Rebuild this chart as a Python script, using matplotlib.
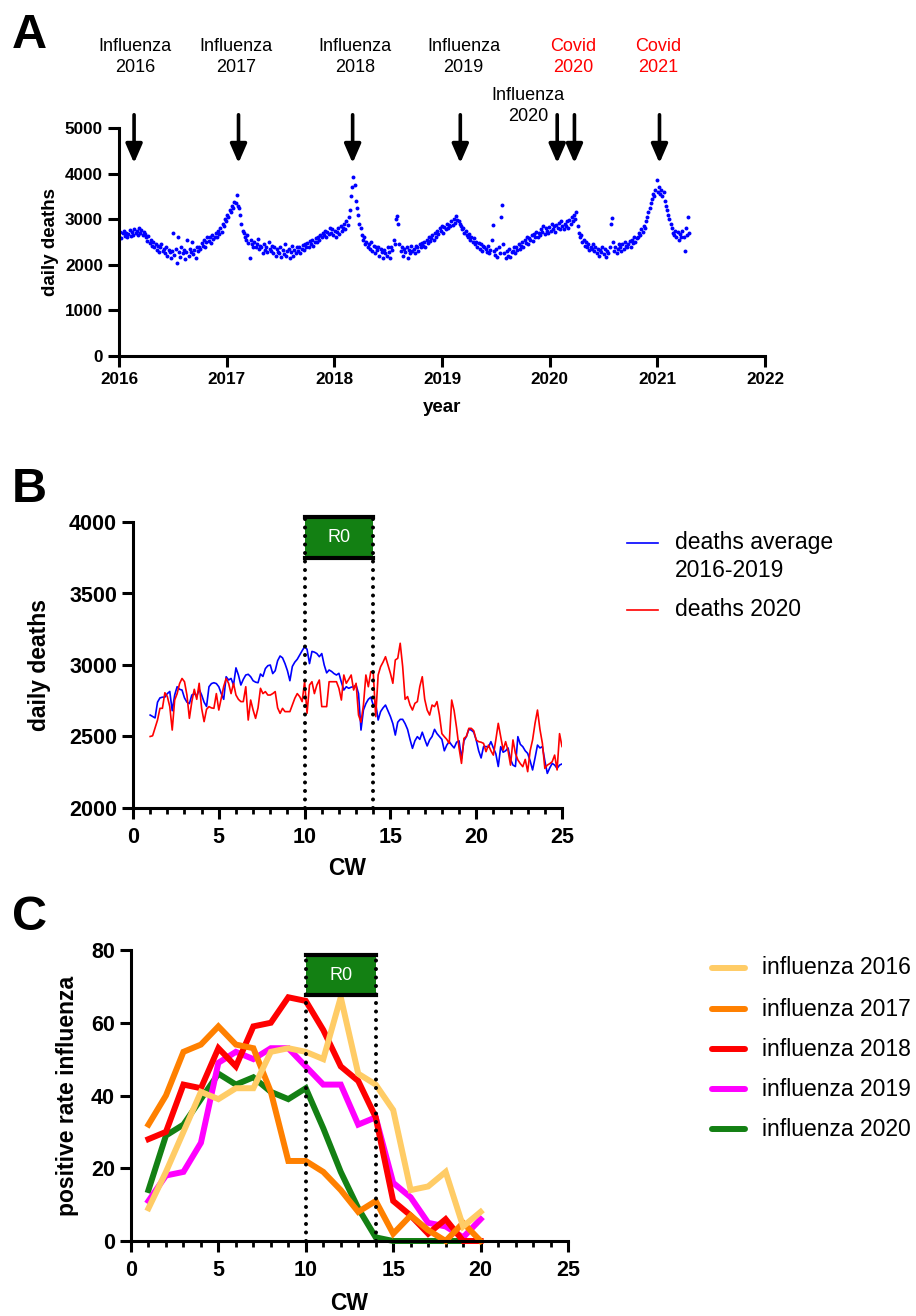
import numpy as np
import pandas as pd
import matplotlib
matplotlib.use("Agg")
import matplotlib.pyplot as plt
from matplotlib.patches import Rectangle
from matplotlib.lines import Line2D
from matplotlib.transforms import blended_transform_factory

plt.rcParams['font.family'] = ['Liberation Sans', 'DejaVu Sans']

# ---------------- panel A: daily deaths, one value every 4 days from 2016-01-01
deaths_2016 = [2620, 2710, 2580, 2690, 2750, 2640, 2700, 2600,
               2680, 2760, 2630, 2720, 2650, 2780, 2690,
               2740, 2660, 2800, 2700, 2760, 2650, 2720, 2680,
               2600, 2520, 2630, 2480, 2550, 2420, 2500,
               2380, 2460, 2330, 2410, 2290, 2380, 2450, 2310,
               2350, 2250, 2400, 2200, 2330, 2280, 2150,
               2300, 2700, 2220, 2350, 2050, 2600, 2280, 2180,
               2400, 2250, 2330, 2120, 2280, 2550, 2200, 2350,
               2280, 2500, 2230, 2320, 2150, 2380, 2300,
               2400, 2350, 2480, 2420, 2550, 2380, 2500, 2600,
               2520, 2600, 2480, 2650, 2560, 2620, 2700,
               2620, 2750, 2680, 2800, 2720, 2900, 2850, 3000]
deaths_2017 = [2950, 3100, 3050, 3200, 3150, 3300, 3250, 3380,
               3350, 3530, 3300, 3250, 3100, 2900, 2750,
               2700, 2600, 2550, 2650, 2480, 2150, 2550, 2460,
               2400, 2500, 2380, 2450, 2560, 2350, 2420,
               2380, 2250, 2450, 2330, 2400, 2280, 2500, 2350,
               2300, 2420, 2250, 2380, 2200, 2350, 2280,
               2250, 2400, 2180, 2320, 2230, 2450, 2200, 2300,
               2350, 2150, 2280, 2420, 2200, 2330, 2250, 2380,
               2300, 2400, 2250, 2350, 2430, 2320, 2450,
               2400, 2480, 2380, 2520, 2450, 2550, 2420, 2500,
               2580, 2500, 2620, 2550, 2650, 2600, 2700,
               2650, 2750, 2600, 2720, 2680, 2800, 2700, 2780]
deaths_2018 = [2650, 2750, 2600, 2720, 2800, 2680, 2850, 2750,
               2800, 2900, 2780, 2950, 2880, 3050, 3200,
               3500, 3700, 3920, 3750, 3400, 3250, 3100, 2900,
               2800, 2650, 2550, 2600, 2450, 2500, 2400,
               2450, 2350, 2500, 2300, 2420, 2250, 2380, 2320,
               2400, 2200, 2350, 2280, 2150, 2330, 2250,
               2200, 2380, 2280, 2150, 2400, 2320, 2550, 2450,
               3000, 3080, 2900, 2450, 2300, 2380, 2200, 2350,
               2280, 2400, 2150, 2330, 2250, 2420, 2300,
               2350, 2250, 2420, 2380, 2300, 2450, 2400, 2480,
               2420, 2500, 2380, 2550, 2480, 2600, 2520,
               2580, 2650, 2550, 2700, 2620, 2750, 2680, 2800]
deaths_2019 = [2750, 2850, 2700, 2820, 2780, 2900, 2800, 2880,
               2850, 2950, 2880, 3000, 2920, 3080, 2980,
               2950, 2900, 2850, 2780, 2800, 2700, 2750, 2650,
               2600, 2680, 2550, 2620, 2500, 2580, 2450,
               2500, 2400, 2480, 2350, 2450, 2300, 2420, 2380,
               2350, 2280, 2420, 2250, 2330, 2550, 2870,
               2300, 2220, 2350, 2180, 2400, 2250, 3050, 3310,
               2450, 2250, 2150, 2300, 2200, 2350, 2180, 2280,
               2300, 2400, 2250, 2380, 2320, 2450, 2350,
               2420, 2500, 2380, 2550, 2480, 2600, 2450, 2580,
               2550, 2650, 2520, 2680, 2600, 2720, 2620,
               2700, 2650, 2780, 2720, 2850, 2680, 2800, 2750]
deaths_2020 = [2700, 2820, 2750, 2900, 2780, 2850, 2720, 2880,
               2800, 2920, 2780, 2950, 2850, 2780, 2900,
               2850, 2950, 2800, 2980, 2900, 3050, 2950, 3100,
               3000, 3160, 2850, 2700, 2600, 2650, 2500,
               2550, 2420, 2500, 2380, 2450, 2320, 2400, 2350,
               2450, 2300, 2380, 2250, 2350, 2200, 2320,
               2280, 2400, 2230, 2350, 2180, 2300, 2250, 2380,
               2900, 3030, 2500, 2300, 2400, 2250, 2350, 2450,
               2400, 2300, 2450, 2350, 2500, 2420, 2380,
               2450, 2520, 2400, 2550, 2480, 2600, 2500, 2580,
               2600, 2700, 2650, 2780, 2720, 2850, 2800,
               2950, 3050, 3150, 3250, 3350, 3450, 3550, 3500]
deaths_2021 = [3650, 3860, 3600, 3700, 3550, 3650, 3500, 3600,
               3400, 3300, 3200, 3100, 3000, 2900, 2800,
               2700, 2650, 2750, 2600, 2720, 2550, 2680, 2600,
               2750, 2620, 2300, 2800, 2650, 3050, 2700]

arrow_years = [2016.14, 2017.11, 2018.17, 2019.17, 2020.07, 2020.23, 2021.02]
event_labels = ['Influenza\n2016', 'Influenza\n2017', 'Influenza\n2018',
                'Influenza\n2019', 'Covid\n2020', 'Covid\n2021', 'Influenza\n2020']
event_label_x = [2016.15, 2017.09, 2018.19, 2019.20, 2020.22, 2021.01, 2019.80]
event_colors = ['black', 'black', 'black', 'black', 'red', 'red', 'black']

# ---------------- panel B: daily deaths by calendar week (CW 1 - 25)
deaths_avg_2016_2019 = [
    2650, 2640, 2630, 2740, 2770, 2775, 2775, 2800, 2815, 2680, 2790, 2848, 2830, 2825,
    2770, 2740, 2730, 2790, 2800, 2780, 2830, 2790, 2740, 2710, 2848, 2870, 2876, 2870,
    2848, 2800, 2760, 2918, 2895, 2906, 2860, 2980, 2930, 2860, 2900, 2930, 2935, 2918,
    2890, 2880, 2876, 2937, 2920, 2975, 2995, 3000, 2940, 2960, 3030, 3063, 3050, 3010,
    2960, 2890, 2990, 3020, 3040, 3070, 3100, 3128, 3110, 3010, 3095, 3090, 3080, 3058,
    3080, 3000, 2945, 2965, 2955, 2940, 2930, 2942, 2880, 2825, 2848, 2837, 2845, 2848,
    2860, 2800, 2545, 2685, 2730, 2760, 2775, 2720, 2732, 2615, 2674, 2700, 2720, 2680,
    2640, 2590, 2510, 2600, 2620, 2620, 2590, 2550, 2480, 2417, 2470, 2499, 2480, 2530,
    2480, 2434, 2476, 2500, 2550, 2520, 2500, 2480, 2400, 2440, 2464, 2440, 2420, 2460,
    2470, 2347, 2470, 2500, 2550, 2545, 2530, 2476, 2400, 2350, 2429, 2430, 2425, 2464,
    2420, 2380, 2290, 2429, 2390, 2400, 2420, 2340, 2300, 2290, 2499, 2445, 2429, 2400,
    2382, 2330, 2266, 2350, 2440, 2420, 2429, 2330, 2242, 2280, 2312, 2300, 2277, 2300,
    2308]
deaths_2020_cw = [
    2500, 2505, 2560, 2615, 2697, 2697, 2806, 2780, 2709, 2545, 2755, 2800, 2870, 2906,
    2883, 2790, 2627, 2744, 2830, 2760, 2872, 2697, 2604, 2690, 2709, 2700, 2697, 2800,
    2685, 2767, 2850, 2906, 2872, 2800, 2872, 2790, 2760, 2744, 2744, 2848, 2615, 2755,
    2685, 2627, 2700, 2837, 2800, 2814, 2790, 2790, 2800, 2814, 2700, 2662, 2697, 2674,
    2674, 2674, 2720, 2767, 2800, 2779, 2744, 2883, 2662, 2860, 2883, 2800, 2860, 2895,
    2709, 2709, 2709, 2883, 2883, 2883, 2883, 2837, 2755, 2930, 2872, 2900, 2930, 2825,
    2872, 2650, 2600, 2720, 2930, 2848, 2953, 2951, 2639, 2930, 2988, 3020, 3058, 3000,
    2942, 2872, 3035, 3047, 3152, 2990, 2760, 2779, 2720, 2685, 2732, 2744, 2850, 2918,
    2760, 2685, 2650, 2720, 2709, 2744, 2650, 2520, 2499, 2480, 2452, 2755, 2680, 2560,
    2420, 2312, 2487, 2500, 2557, 2557, 2540, 2476, 2464, 2460, 2452, 2394, 2440, 2400,
    2370, 2476, 2592, 2500, 2405, 2464, 2400, 2300, 2476, 2382, 2336, 2310, 2289, 2340,
    2254, 2400, 2476, 2592, 2685, 2550, 2452, 2277, 2300, 2310, 2324, 2370, 2266, 2520,
    2430]

# ---------------- panel C: influenza positive rate per calendar week
influenza_2016 = [9, 19, 30, 41, 39, 42, 42, 52, 53, 52, 50, 67, 46, 43, 36, 14, 15, 19, 4, 8]
influenza_2017 = [32, 40, 52, 54, 59, 54, 53, 41, 22, 22, 19, 14, 8, 11, 2, 7, 3, 0, 5, 0]
influenza_2018 = [28, 30, 43, 42, 53, 48, 59, 60, 67, 66, 58, 48, 44, 34, 11, 7, 2, 6, 0, 0]
influenza_2019 = [11, 18, 19, 27, 49, 52, 50, 53, 53, 48, 43, 43, 32, 34, 16, 12, 5, 4, 1, 6]
influenza_2020 = [14, 29, 32, 39, 46, 43, 45, 41, 39, 42, 31, 19, 9, 1, 0, 0, 0, 0, 0]

flu_labels = ['influenza 2016', 'influenza 2017', 'influenza 2018', 'influenza 2019', 'influenza 2020']
flu_colors = ['#ffcc66', '#ff8000', '#ff0000', '#ff00ff', '#138013']
box_green = '#138013'

W, H = 916, 1316
fig = plt.figure(figsize=(W / 100, H / 100), dpi=100)


def rect(l, t, r, b):
    return [l / W, 1 - b / H, (r - l) / W, (b - t) / H]


def style_axes(ax, size, ticklen):
    for s in ['top', 'right']:
        ax.spines[s].set_visible(False)
    for s in ['left', 'bottom']:
        ax.spines[s].set_linewidth(2.2)
    ax.tick_params(which='major', width=2.2, length=ticklen, labelsize=size, direction='out')
    ax.tick_params(which='minor', width=2.0, length=ticklen * 0.5, direction='out')
    for lab in ax.get_xticklabels() + ax.get_yticklabels():
        lab.set_fontweight('bold')


def dotted(ax, x, y0, y1):
    ax.plot([x, x], [y0, y1], color='black', lw=2.9, linestyle=(0, (0.01, 2.1)),
            dash_capstyle='round', clip_on=False, zorder=8)


def r0_box(ax, y0, y1):
    ax.add_patch(Rectangle((10, y0), 4, y1 - y0, facecolor=box_green, edgecolor='none',
                           clip_on=False, zorder=6))
    ax.plot([10, 14], [y0, y0], color='black', lw=3, clip_on=False, zorder=7)
    ax.plot([10, 14], [y1, y1], color='black', lw=3, clip_on=False, zorder=7)
    dotted(ax, 10, ax.get_ylim()[0], y1)
    dotted(ax, 14, ax.get_ylim()[0], y1)
    ax.text(12, (y0 + y1) / 2, 'R0', color='white', fontsize=13, ha='center', va='center', zorder=9)


# ---------------- A
axA = fig.add_axes(rect(119, 128, 765, 356))
all_deaths = deaths_2016 + deaths_2017 + deaths_2018 + deaths_2019 + deaths_2020 + deaths_2021
dates = pd.date_range('2016-01-01', periods=len(all_deaths), freq='4D')
years = dates.year + (dates.dayofyear - 1) / 365.25
axA.scatter(years, all_deaths, s=8, color='#0000ff', marker='o', linewidths=0)
axA.set_xlim(2016, 2022)
axA.set_ylim(0, 5000)
axA.set_xticks(range(2016, 2023))
axA.set_yticks(range(0, 5001, 1000))
style_axes(axA, 12.3, 8)
axA.set_ylabel('daily deaths', fontsize=13.5, fontweight='bold')
axA.yaxis.set_label_coords(-0.093, 0.5)
axA.set_xlabel('year', fontsize=13.5, fontweight='bold')
axA.xaxis.set_label_coords(0.5, -0.19)
for xa in arrow_years:
    axA.annotate('', xy=(xa, 4230), xytext=(xa, 5290),
                 arrowprops=dict(arrowstyle='-|>,head_length=1.15,head_width=0.5',
                                 lw=2.6, color='black', shrinkA=0, shrinkB=0),
                 annotation_clip=False)
tr = blended_transform_factory(axA.transData, fig.transFigure)
for lab, xl, c in zip(event_labels, event_label_x, event_colors):
    yc = 106 if lab == 'Influenza\n2020' else 57
    axA.text(xl, 1 - yc / H, lab, transform=tr, ha='center', va='center', fontsize=13,
             color=c, linespacing=1.3)

# ---------------- B
axB = fig.add_axes(rect(133, 522, 562, 808))
cw_days = 1 + np.arange(len(deaths_avg_2016_2019)) / 7
axB.plot(cw_days, deaths_avg_2016_2019, color='#0000ff', lw=1.2)
axB.plot(cw_days, deaths_2020_cw, color='#ff0000', lw=1.2)
axB.set_xlim(0, 25)
axB.set_ylim(2000, 4000)
axB.set_xticks(range(0, 26, 5))
axB.set_xticks(range(0, 26), minor=True)
axB.set_yticks(range(2000, 4001, 500))
style_axes(axB, 15.5, 8)
axB.tick_params(axis='x', pad=6)
axB.set_ylabel('daily deaths', fontsize=16.5, fontweight='bold')
axB.yaxis.set_label_coords(-0.19, 0.5)
axB.set_xlabel('CW', fontsize=16.5, fontweight='bold')
axB.xaxis.set_label_coords(0.5, -0.172)
r0_box(axB, 3748, 4035)

fig.add_artist(Line2D([627 / W, 658 / W], [1 - 543 / H] * 2, color='#0000ff', lw=1.2))
fig.add_artist(Line2D([627 / W, 658 / W], [1 - 610 / H] * 2, color='#ff0000', lw=1.2))
fig.text(675 / W, 1 - 543 / H, 'deaths average', fontsize=16.5, va='center')
fig.text(675 / W, 1 - 571 / H, '2016-2019', fontsize=16.5, va='center')
fig.text(675 / W, 1 - 610 / H, 'deaths 2020', fontsize=16.5, va='center')

# ---------------- C
axC = fig.add_axes(rect(131, 950, 568, 1241))
flu_series = [influenza_2016, influenza_2017, influenza_2018, influenza_2019, influenza_2020]
for k in [4, 3, 2, 1, 0]:
    ser = flu_series[k]
    axC.plot(range(1, len(ser) + 1), ser, color=flu_colors[k], lw=4.3, clip_on=False,
             solid_joinstyle='miter', zorder=2 + (4 - k) * 0.1)
axC.set_xlim(0, 25)
axC.set_ylim(0, 80)
axC.set_xticks(range(0, 26, 5))
axC.set_xticks(range(0, 26), minor=True)
axC.set_yticks(range(0, 81, 20))
style_axes(axC, 15.5, 8)
axC.tick_params(axis='x', pad=6)
axC.set_ylabel('positive rate influenza', fontsize=16.5, fontweight='bold')
axC.yaxis.set_label_coords(-0.118, 0.5)
axC.set_xlabel('CW', fontsize=16.5, fontweight='bold')
axC.xaxis.set_label_coords(0.5, -0.175)
r0_box(axC, 67.6, 78.6)

legend_rows = [968, 1009, 1049, 1089, 1129]
for lab, c, yr in zip(flu_labels, flu_colors, legend_rows):
    fig.add_artist(Line2D([712 / W, 745 / W], [1 - yr / H] * 2, color=c, lw=4.3,
                          solid_capstyle='round'))
    fig.text(762 / W, 1 - yr / H, lab, fontsize=16.5, va='center')

# panel letters
for letter, base in [('A', 48), ('B', 502), ('C', 930)]:
    fig.text(12 / W, 1 - base / H, letter, fontsize=35, fontweight='bold', va='baseline')

fig.savefig('out.png', dpi=100)
